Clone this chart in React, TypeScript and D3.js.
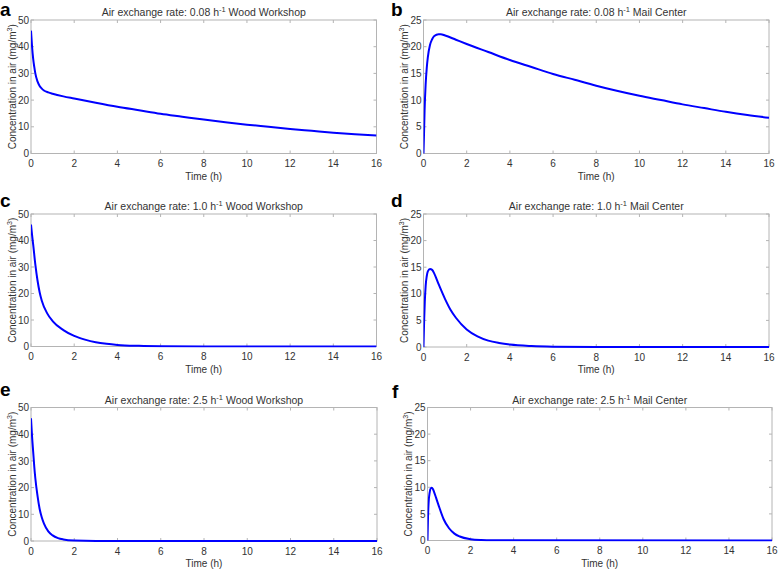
import React from "react";
import * as d3 from "d3";

// ---------- data ----------
const xTicks = [0, 2, 4, 6, 8, 10, 12, 14, 16];
const yTicksWood = [0, 10, 20, 30, 40, 50];
const yTicksMail = [0, 5, 10, 15, 20, 25];

const timeA = [0, 0.05, 0.1, 0.15, 0.2, 0.3, 0.4, 0.5, 0.6, 0.8, 1, 1.5, 2, 3, 4, 5, 6, 7, 8, 9, 10, 11, 12, 13, 14, 15, 16];
const concA = [46, 40, 35.5, 32.5, 30, 27, 25.3, 24.3, 23.6, 22.9, 22.4, 21.4, 20.6, 19.0, 17.5, 16.2, 14.9, 13.8, 12.7, 11.7, 10.8, 10.0, 9.2, 8.5, 7.8, 7.2, 6.7];

const timeB = [0, 0.02, 0.05, 0.1, 0.15, 0.2, 0.3, 0.4, 0.5, 0.7, 0.8, 1, 1.5, 2, 3, 4, 5, 6, 7, 8, 9, 10, 11, 12, 13, 14, 15, 16];
const concB = [0, 3, 8, 13, 16, 18, 20.3, 21.4, 22, 22.35, 22.35, 22.1, 21.3, 20.5, 19.0, 17.5, 16.2, 14.9, 13.8, 12.7, 11.7, 10.8, 10.0, 9.2, 8.5, 7.8, 7.2, 6.7];

const timeC = [0, 0.05, 0.1, 0.2, 0.3, 0.4, 0.5, 0.75, 1, 1.5, 2, 2.5, 3, 3.5, 4, 5, 6, 8, 10, 16];
const concC = [46, 42, 38.5, 31, 25, 20.5, 17.3, 12.5, 9.6, 6.2, 4.0, 2.6, 1.6, 1.0, 0.6, 0.25, 0.1, 0.02, 0, 0];

const timeD = [0, 0.03, 0.06, 0.1, 0.15, 0.2, 0.3, 0.4, 0.5, 0.7, 1, 1.25, 1.5, 2, 2.5, 3, 3.5, 4, 5, 6, 8, 16];
const concD = [0, 5, 8.5, 11.5, 13.3, 14.2, 14.65, 14.5, 13.8, 11.8, 9, 7, 5.5, 3.3, 2.0, 1.2, 0.75, 0.45, 0.17, 0.06, 0.01, 0];

const timeE = [0, 0.05, 0.1, 0.15, 0.2, 0.3, 0.4, 0.5, 0.6, 0.8, 1, 1.25, 1.5, 2, 3, 16];
const concE = [46, 39, 33.5, 28, 23.5, 17, 12, 8.8, 6.5, 3.6, 2.1, 1.1, 0.6, 0.2, 0.02, 0];

const timeF = [0, 0.025, 0.05, 0.1, 0.15, 0.2, 0.25, 0.3, 0.4, 0.5, 0.75, 1, 1.25, 1.5, 2, 2.5, 3, 16];
const concF = [0, 4.5, 7, 9.0, 9.8, 9.9, 9.7, 9.2, 8, 6.8, 4, 2.3, 1.3, 0.75, 0.25, 0.08, 0.03, 0];

const letters = ["a", "b", "c", "d", "e", "f"];
const rates = ["0.08", "0.08", "1.0", "1.0", "2.5", "2.5"];
const sites = ["Wood Workshop", "Mail Center", "Wood Workshop", "Mail Center", "Wood Workshop", "Mail Center"];
const times = [timeA, timeB, timeC, timeD, timeE, timeF];
const concs = [concA, concB, concC, concD, concE, concF];
const yTickSets = [yTicksWood, yTicksMail, yTicksWood, yTicksMail, yTicksWood, yTicksMail];

// ---------- layout ----------
const boxes = [
  { l: 31, t: 20, r: 376.5, b: 153.5, lx: 0, ly: 15.5 },
  { l: 423.5, t: 20, r: 769, b: 153.5, lx: 391, ly: 15.5 },
  { l: 31, t: 214, r: 376.5, b: 346.5, lx: 0, ly: 207 },
  { l: 423.5, t: 214, r: 769, b: 347, lx: 391, ly: 207 },
  { l: 31, t: 407.5, r: 377, b: 541, lx: 0, ly: 395.5 },
  { l: 427.5, t: 407.5, r: 772, b: 540.5, lx: 392, ly: 398 },
];

const AXIS = "#b4b4b4";
const TEXT = "#333333";
const FONT = "'Liberation Sans', Arial, sans-serif";

function Panel({ i }: { i: number }) {
  const bx = boxes[i];
  const yTicks = yTickSets[i];
  const x = d3.scaleLinear().domain([0, 16]).range([bx.l, bx.r]);
  const y = d3.scaleLinear().domain([0, yTicks[yTicks.length - 1]]).range([bx.b, bx.t]);
  const pts = times[i].map((t, k) => [t, concs[i][k]] as [number, number]);
  const line = d3
    .line<[number, number]>()
    .x((d) => x(d[0]))
    .y((d) => y(d[1]))
    .curve(d3.curveMonotoneX);
  const cx = (bx.l + bx.r) / 2;
  const cy = (bx.t + bx.b) / 2;
  const tl = 3;
  return (
    <g fontFamily={FONT}>
      <text x={bx.lx} y={bx.ly} fontSize={19} fontWeight="bold" fill="#000">
        {letters[i]}
      </text>
      <text x={cx} y={bx.t - 3.7} fontSize={10.5} fill={TEXT} textAnchor="middle">
        {"Air exchange rate: " + rates[i] + " h"}
        <tspan fontSize={7.5} dy={-4}>-1</tspan>
        <tspan dy={4}>{" " + sites[i]}</tspan>
      </text>
      <clipPath id={"clip" + i}>
        <rect x={bx.l} y={bx.t - 2} width={bx.r - bx.l} height={bx.b - bx.t + 3} />
      </clipPath>
      <rect x={bx.l} y={bx.t} width={bx.r - bx.l} height={bx.b - bx.t} fill="none" stroke={AXIS} strokeWidth={1} />
      {xTicks.map((v) => (
        <g key={"x" + v}>
          <line x1={x(v)} x2={x(v)} y1={bx.b} y2={bx.b - tl} stroke={AXIS} />
          <line x1={x(v)} x2={x(v)} y1={bx.t} y2={bx.t + tl} stroke={AXIS} />
          <text x={x(v)} y={bx.b + 13.5} fontSize={10} fill={TEXT} textAnchor="middle">
            {v}
          </text>
        </g>
      ))}
      {yTicks.map((v) => (
        <g key={"y" + v}>
          <line x1={bx.l} x2={bx.l + tl} y1={y(v)} y2={y(v)} stroke={AXIS} />
          <line x1={bx.r} x2={bx.r - tl} y1={y(v)} y2={y(v)} stroke={AXIS} />
          <text x={bx.l - 2} y={y(v) + 3.6} fontSize={10} fill={TEXT} textAnchor="end">
            {v}
          </text>
        </g>
      ))}
      <text x={cx} y={bx.b + 26} fontSize={10} fill={TEXT} textAnchor="middle">
        Time (h)
      </text>
      <text
        transform={`translate(${bx.l - 15.5},${cy}) rotate(-90)`}
        fontSize={10}
        fill={TEXT}
        textAnchor="middle"
      >
        {"Concentration in air (mg/m"}
        <tspan fontSize={7} dy={-4}>3</tspan>
        <tspan dy={4}>)</tspan>
      </text>
      <path d={line(pts) || ""} fill="none" stroke="#0000ff" strokeWidth={2} clipPath={`url(#clip${i})`} />
    </g>
  );
}

export default function App() {
  return (
    <svg
      width={779}
      height={570}
      style={{ position: "absolute", left: 0, top: 0, background: "#fff" }}
    >
      <rect width={779} height={570} fill="#fff" />
      {letters.map((_, i) => (
        <Panel key={i} i={i} />
      ))}
    </svg>
  );
}
